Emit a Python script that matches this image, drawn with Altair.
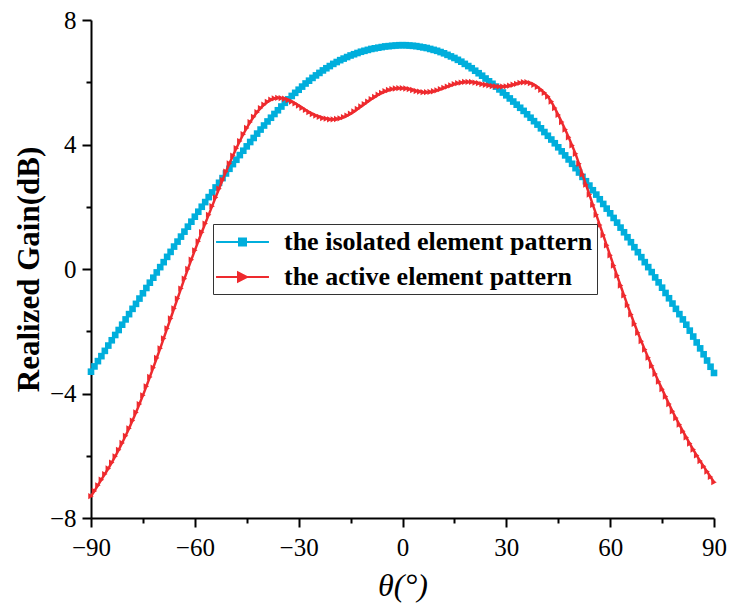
import altair as alt
import pandas as pd

theta = list(range(-90, 91))

isolated = [
    -3.30, -3.13, -2.96, -2.80, -2.63, -2.46, -2.29, -2.12, -1.96, -1.79,
    -1.62, -1.45, -1.28, -1.12, -0.95, -0.78, -0.61, -0.44, -0.28, -0.11,
    0.06, 0.22, 0.39, 0.55, 0.72, 0.88, 1.04, 1.20, 1.36, 1.52,
    1.68, 1.84, 2.00, 2.15, 2.31, 2.46, 2.62, 2.77, 2.92, 3.07,
    3.22, 3.37, 3.51, 3.66, 3.80, 3.94, 4.08, 4.21, 4.35, 4.48,
    4.61, 4.74, 4.86, 4.98, 5.10, 5.22, 5.34, 5.45, 5.56, 5.66,
    5.76, 5.86, 5.96, 6.05, 6.14, 6.22, 6.30, 6.38, 6.45, 6.52,
    6.59, 6.65, 6.71, 6.76, 6.81, 6.86, 6.90, 6.94, 6.98, 7.01,
    7.04, 7.07, 7.09, 7.11, 7.13, 7.15, 7.16, 7.17, 7.18, 7.19,
    7.19,
    7.19, 7.18, 7.17, 7.16, 7.14, 7.12, 7.10, 7.07, 7.04, 7.01,
    6.97, 6.93, 6.88, 6.83, 6.78, 6.72, 6.66, 6.59, 6.52, 6.45,
    6.37, 6.29, 6.21, 6.12, 6.03, 5.95, 5.86, 5.77, 5.67, 5.58,
    5.48, 5.38, 5.28, 5.18, 5.08, 4.97, 4.86, 4.75, 4.64, 4.52,
    4.40, 4.28, 4.16, 4.04, 3.91, 3.78, 3.65, 3.52, 3.38, 3.24,
    3.10, 2.96, 2.82, 2.68, 2.53, 2.39, 2.24, 2.09, 1.94, 1.79,
    1.64, 1.49, 1.33, 1.18, 1.02, 0.86, 0.70, 0.54, 0.38, 0.22,
    0.06, -0.10, -0.27, -0.43, -0.60, -0.77, -0.94, -1.11, -1.28, -1.45,
    -1.62, -1.79, -1.98, -2.17, -2.36, -2.55, -2.74, -2.94, -3.14, -3.34,
]

active = [
    -7.30, -7.13, -6.95, -6.77, -6.59, -6.41, -6.22, -6.02, -5.81, -5.59,
    -5.36, -5.12, -4.87, -4.61, -4.34, -4.06, -3.77, -3.47, -3.17, -2.86,
    -2.55, -2.23, -1.91, -1.59, -1.27, -0.95, -0.63, -0.31, 0.00, 0.30,
    0.60, 0.89, 1.18, 1.46, 1.74, 2.02, 2.30, 2.58, 2.86, 3.13,
    3.39, 3.64, 3.88, 4.11, 4.33, 4.53, 4.72, 4.89, 5.04, 5.17,
    5.28, 5.37, 5.44, 5.48, 5.50, 5.49, 5.47, 5.43, 5.38, 5.32,
    5.25, 5.18, 5.11, 5.04, 4.98, 4.93, 4.89, 4.85, 4.83, 4.81,
    4.81, 4.82, 4.84, 4.88, 4.93, 4.99, 5.06, 5.14, 5.22, 5.30,
    5.38, 5.46, 5.53, 5.60, 5.66, 5.71, 5.75, 5.78, 5.80, 5.81,
    5.81,
    5.80, 5.78, 5.75, 5.72, 5.70, 5.68, 5.68, 5.69, 5.71, 5.74,
    5.78, 5.82, 5.86, 5.90, 5.94, 5.97, 5.99, 6.01, 6.01, 6.01,
    5.99, 5.97, 5.94, 5.92, 5.90, 5.88, 5.87, 5.86, 5.86, 5.87,
    5.89, 5.92, 5.95, 5.98, 6.00, 6.00, 5.97, 5.92, 5.85, 5.76,
    5.66, 5.54, 5.38, 5.17, 4.95, 4.72, 4.48, 4.23, 3.97, 3.70,
    3.38, 3.04, 2.71, 2.39, 2.06, 1.74, 1.41, 1.09, 0.76, 0.44,
    0.11, -0.21, -0.53, -0.85, -1.16, -1.46, -1.76, -2.05, -2.32, -2.59,
    -2.85, -3.11, -3.37, -3.62, -3.86, -4.10, -4.34, -4.57, -4.79, -5.00,
    -5.21, -5.41, -5.61, -5.80, -5.99, -6.17, -6.34, -6.51, -6.68, -6.85,
]

series_names = ["the isolated element pattern", "the active element pattern"]
series_colors = ["#00AEDC", "#EE2A2E"]

x_major = [-90, -60, -30, 0, 30, 60, 90]
x_minor = [-75, -45, -15, 15, 45, 75]
y_major = [-8, -4, 0, 4, 8]
y_minor = [-6, -2, 2, 6]

df = pd.DataFrame({
    "theta": theta + theta,
    "gain": isolated + active,
    "series": [series_names[0]] * len(theta) + [series_names[1]] * len(theta),
})

FONT = "Liberation Serif"
xscale = alt.Scale(domain=[-90, 90], nice=False, zero=False)
yscale = alt.Scale(domain=[-8, 8], nice=False, zero=False)

x_axis = alt.Axis(
    values=x_major, format="d", title="θ(°)", grid=False,
    domainColor="black", domainWidth=2, tickColor="black", tickWidth=2, tickSize=9,
    labelFont=FONT, labelFontSize=25, labelColor="black", labelPadding=8,
    labelFlush=False, labelOverlap=False,
    titleFont=FONT, titleFontSize=32, titleFontStyle="italic", titleFontWeight="normal",
    titleColor="black", titlePadding=10, orient="bottom",
)
y_axis = alt.Axis(
    values=y_major, format="d", title="Realized Gain(dB)", grid=False,
    domainColor="black", domainWidth=2, tickColor="black", tickWidth=2, tickSize=9,
    labelFont=FONT, labelFontSize=25, labelColor="black", labelPadding=6,
    labelFlush=False, labelOverlap=False,
    titleFont=FONT, titleFontSize=31, titleFontWeight="bold",
    titleColor="black", titlePadding=4, orient="left",
)
x_minor_axis = alt.Axis(
    values=x_minor, labels=False, domain=False, grid=False, title=None,
    tickColor="black", tickWidth=2, tickSize=5, orient="bottom",
)
y_minor_axis = alt.Axis(
    values=y_minor, labels=False, domain=False, grid=False, title=None,
    tickColor="black", tickWidth=2, tickSize=5, orient="left",
)

base = alt.Chart(df)


def series_layer(name, color, marker, size, line_width, with_axes=False):
    sub = base.transform_filter(alt.datum.series == name)
    xa = x_axis if with_axes else None
    ya = y_axis if with_axes else None
    line = sub.mark_line(color=color, strokeWidth=line_width).encode(
        x=alt.X("theta:Q", scale=xscale, axis=xa),
        y=alt.Y("gain:Q", scale=yscale, axis=ya),
    )
    pts = sub.mark_point(shape=marker, filled=True, size=size, color=color, opacity=1).encode(
        x=alt.X("theta:Q", scale=xscale, axis=None),
        y=alt.Y("gain:Q", scale=yscale, axis=None),
    )
    return line, pts


blue_line, blue_pts = series_layer(series_names[0], series_colors[0], "square", 44, 2, with_axes=True)
red_line, red_pts = series_layer(series_names[1], series_colors[1], "triangle-right", 40, 2.5)

sym_square = "M-1.15,0H2.92M0.615,-0.27H1.155V0.27H0.615Z"
sym_tri = "M-1.15,0H2.92M0.54,-0.35L1.23,0L0.54,0.35Z"

legend = alt.Legend(
    title=None, orient="none", legendX=122, legendY=204, direction="vertical",
    fillColor="white", strokeColor="#333333", padding=4, rowPadding=8,
    symbolSize=676, symbolStrokeWidth=2, symbolOpacity=1,
    labelFont=FONT, labelFontSize=26, labelFontWeight="bold", labelColor="black",
    labelOffset=39, labelLimit=500, cornerRadius=0,
)

legend_layer = base.transform_filter("false").mark_point(filled=True, opacity=1, strokeWidth=2).encode(
    x=alt.X("theta:Q", scale=xscale, axis=x_minor_axis),
    y=alt.Y("gain:Q", scale=yscale, axis=y_minor_axis),
    fill=alt.Fill("series:N", scale=alt.Scale(domain=series_names, range=series_colors), legend=legend),
    stroke=alt.Stroke("series:N", scale=alt.Scale(domain=series_names, range=series_colors), legend=legend),
    shape=alt.Shape("series:N", scale=alt.Scale(domain=series_names, range=[sym_square, sym_tri]), legend=legend),
)

chart = alt.layer(
    blue_line, blue_pts, red_line, red_pts, legend_layer
).resolve_axis(
    x="independent", y="independent"
).properties(
    width=623, height=498,
    padding={"left": 83, "top": 12, "right": 13, "bottom": 88},
    autosize=alt.AutoSizeParams(type="none"),
    background="white",
).configure_view(stroke=None)

chart.save("out.html", embed_options={"renderer": "svg", "actions": False})
